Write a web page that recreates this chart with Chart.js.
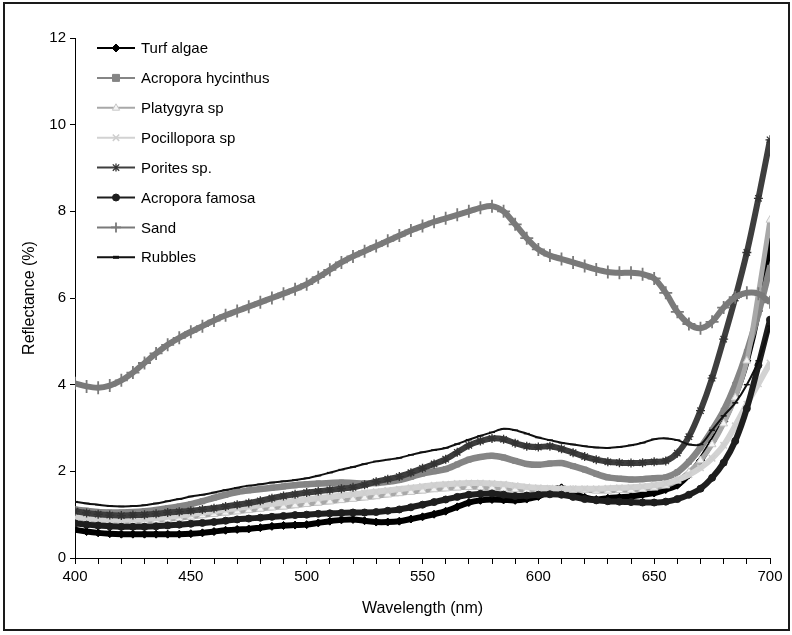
<!DOCTYPE html>
<html>
<head>
<meta charset="utf-8">
<script src="https://cdn.jsdelivr.net/npm/chart.js@4.4.1/dist/chart.umd.min.js"></script>
<style>
  html, body { margin: 0; padding: 0; background: #fff; }
  #wrap { width: 792px; height: 635px; }
</style>
</head>
<body>
<div id="wrap"><canvas id="c" width="792" height="635"></canvas></div>
<script>
// Wavelength categories (nm)
const wavelengths = [400,405,410,415,420,425,430,435,440,445,450,455,460,465,470,475,480,485,490,495,
  500,505,510,515,520,525,530,535,540,545,550,555,560,565,570,575,580,585,590,595,
  600,605,610,615,620,625,630,635,640,645,650,655,660,665,670,675,680,685,690,695,700];

const seriesNames = ["Turf algae","Acropora hycinthus","Platygyra sp","Pocillopora sp","Porites sp.","Acropora famosa","Sand","Rubbles"];

const turfAlgae = [0.65,0.61,0.58,0.56,0.55,0.55,0.55,0.55,0.55,0.55,0.56,0.58,0.61,0.64,0.66,0.67,0.70,0.73,0.75,0.76,
  0.77,0.81,0.85,0.88,0.89,0.86,0.83,0.83,0.85,0.90,0.95,1.01,1.08,1.18,1.28,1.33,1.35,1.34,1.33,1.36,
  1.42,1.55,1.62,1.50,1.40,1.35,1.38,1.40,1.42,1.46,1.50,1.58,1.68,1.92,2.25,2.68,3.15,3.75,4.55,5.70,7.30];

const acroporaHycinthus = [1.12,1.09,1.06,1.05,1.05,1.06,1.08,1.11,1.15,1.19,1.24,1.31,1.39,1.46,1.52,1.56,1.59,1.62,1.65,1.68,
  1.70,1.72,1.73,1.74,1.73,1.72,1.73,1.76,1.80,1.87,1.95,2.00,2.05,2.16,2.27,2.33,2.36,2.32,2.24,2.17,
  2.15,2.18,2.19,2.12,2.04,1.94,1.86,1.83,1.81,1.82,1.84,1.86,1.98,2.22,2.55,2.95,3.40,4.00,4.75,5.65,6.70];

const platygyra = [0.92,0.89,0.86,0.85,0.84,0.84,0.85,0.87,0.89,0.92,0.95,0.98,1.01,1.04,1.07,1.10,1.13,1.16,1.18,1.21,
  1.24,1.27,1.30,1.33,1.36,1.39,1.42,1.46,1.49,1.52,1.55,1.58,1.60,1.62,1.63,1.63,1.62,1.60,1.58,1.56,
  1.56,1.58,1.58,1.57,1.56,1.55,1.55,1.56,1.57,1.59,1.62,1.67,1.78,1.98,2.25,2.62,3.10,3.70,4.55,6.10,7.80];

const pocillopora = [0.96,0.93,0.90,0.89,0.88,0.89,0.90,0.92,0.95,0.98,1.01,1.05,1.08,1.12,1.15,1.19,1.22,1.25,1.28,1.32,
  1.35,1.38,1.41,1.44,1.47,1.50,1.53,1.56,1.59,1.62,1.65,1.68,1.70,1.72,1.73,1.73,1.72,1.70,1.67,1.64,
  1.62,1.61,1.60,1.60,1.60,1.60,1.61,1.62,1.63,1.65,1.68,1.72,1.80,1.92,2.08,2.30,2.60,3.05,3.55,4.02,4.50];

const porites = [1.08,1.04,1.01,0.99,0.98,0.99,1.00,1.02,1.05,1.07,1.09,1.12,1.15,1.19,1.23,1.27,1.32,1.38,1.43,1.47,
  1.51,1.54,1.57,1.60,1.63,1.69,1.76,1.82,1.88,1.97,2.07,2.17,2.28,2.44,2.60,2.70,2.76,2.74,2.65,2.58,
  2.56,2.58,2.52,2.43,2.34,2.27,2.22,2.20,2.19,2.20,2.22,2.24,2.42,2.80,3.40,4.15,5.05,6.00,7.05,8.30,9.65];

const acroporaFamosa = [0.80,0.77,0.75,0.73,0.72,0.72,0.72,0.73,0.75,0.77,0.79,0.81,0.83,0.86,0.89,0.91,0.93,0.95,0.97,0.99,
  1.00,1.02,1.03,1.04,1.05,1.05,1.06,1.09,1.12,1.17,1.23,1.29,1.35,1.41,1.46,1.48,1.49,1.46,1.43,1.44,
  1.46,1.47,1.46,1.41,1.36,1.33,1.31,1.30,1.29,1.28,1.28,1.30,1.36,1.46,1.60,1.85,2.20,2.70,3.45,4.45,5.50];

const sand = [4.03,3.96,3.93,3.98,4.10,4.28,4.50,4.72,4.92,5.08,5.22,5.35,5.48,5.60,5.70,5.80,5.90,6.00,6.10,6.20,
  6.32,6.48,6.65,6.82,6.96,7.08,7.20,7.32,7.44,7.56,7.66,7.76,7.84,7.92,8.00,8.08,8.12,8.00,7.70,7.38,
  7.12,6.98,6.90,6.82,6.74,6.66,6.60,6.58,6.58,6.55,6.45,6.12,5.68,5.40,5.30,5.45,5.78,6.02,6.12,6.10,5.90];

const rubbles = [1.30,1.26,1.23,1.20,1.19,1.20,1.22,1.26,1.31,1.36,1.42,1.46,1.51,1.57,1.62,1.67,1.70,1.74,1.77,1.80,
  1.84,1.90,1.97,2.04,2.10,2.17,2.23,2.27,2.31,2.38,2.44,2.49,2.54,2.63,2.73,2.82,2.90,2.98,2.95,2.87,
  2.78,2.72,2.66,2.62,2.58,2.55,2.54,2.56,2.60,2.66,2.74,2.76,2.72,2.62,2.62,2.95,3.28,3.58,4.00,4.55,5.35];

const xTickLabels = [400,450,500,550,600,650,700];
const yTickLabels = [0,2,4,6,8,10,12];

const seriesValues = [turfAlgae, acroporaHycinthus, platygyra, pocillopora, porites, acroporaFamosa, sand, rubbles];

// styles
const styles = [
  {line:'#000000', lw:6, ps:'rectRot', pr:4, pf:'#000000', pb:'#000000', pbw:1},
  {line:'#858585', lw:6.5, ps:'rect', pr:3.5, pf:'#858585', pb:'#858585', pbw:1},
  {line:'#a8a8a8', lw:5, ps:'triangle', pr:4.5, pf:'#f4f4f4', pb:'#c8c8c8', pbw:1},
  {line:'#d2d2d2', lw:6, ps:'crossRot', pr:4.5, pf:'#d2d2d2', pb:'#cfcfcf', pbw:1.5},
  {line:'#3e3e3e', lw:6, ps:'star', pr:4.5, pf:'#333333', pb:'#333333', pbw:1.3},
  {line:'#1e1e1e', lw:6, ps:'circle', pr:3.5, pf:'#1e1e1e', pb:'#1e1e1e', pbw:1},
  {line:'#7a7a7a', lw:6, ps:'cross', pr:6.5, pf:'#7a7a7a', pb:'#7a7a7a', pbw:1.8},
  {line:'#111111', lw:2, ps:'line', pr:3, pf:'#111111', pb:'#111111', pbw:1.5}
];

const datasets = seriesNames.map((name, i) => ({
  label: name,
  data: wavelengths.map((w, k) => ({x: w, y: seriesValues[i][k]})),
  borderColor: styles[i].line,
  backgroundColor: styles[i].pf,
  borderWidth: styles[i].lw,
  pointStyle: styles[i].ps,
  pointRadius: styles[i].pr,
  pointBackgroundColor: styles[i].pf,
  pointBorderColor: styles[i].pb,
  pointBorderWidth: styles[i].pbw,
  tension: 0.3,
  fill: false,
  order: seriesNames.length - i
}));

const FONT = "Arial, 'Liberation Sans', Helvetica, sans-serif";

function drawMarker(ctx, style, x, y, r) {
  ctx.save();
  ctx.beginPath();
  switch (style) {
    case 'rectRot':
      ctx.moveTo(x, y - r); ctx.lineTo(x + r, y); ctx.lineTo(x, y + r); ctx.lineTo(x - r, y); ctx.closePath();
      ctx.fill(); ctx.stroke(); break;
    case 'rect':
      ctx.rect(x - r, y - r, 2*r, 2*r); ctx.fill(); ctx.stroke(); break;
    case 'triangle':
      ctx.moveTo(x, y - r); ctx.lineTo(x + r*0.9, y + r*0.6); ctx.lineTo(x - r*0.9, y + r*0.6); ctx.closePath();
      ctx.fill(); ctx.stroke(); break;
    case 'crossRot':
      ctx.moveTo(x - r*0.8, y - r*0.8); ctx.lineTo(x + r*0.8, y + r*0.8);
      ctx.moveTo(x + r*0.8, y - r*0.8); ctx.lineTo(x - r*0.8, y + r*0.8); ctx.stroke(); break;
    case 'star':
      ctx.moveTo(x - r*0.8, y - r*0.8); ctx.lineTo(x + r*0.8, y + r*0.8);
      ctx.moveTo(x + r*0.8, y - r*0.8); ctx.lineTo(x - r*0.8, y + r*0.8);
      ctx.moveTo(x, y - r); ctx.lineTo(x, y + r); ctx.stroke(); break;
    case 'circle':
      ctx.arc(x, y, r, 0, Math.PI*2); ctx.fill(); ctx.stroke(); break;
    case 'cross':
      ctx.moveTo(x, y - r); ctx.lineTo(x, y + r); ctx.moveTo(x - r, y); ctx.lineTo(x + r, y); ctx.stroke(); break;
    case 'line':
      ctx.moveTo(x - r, y); ctx.lineTo(x + r, y); ctx.lineWidth = 3; ctx.stroke(); break;
  }
  ctx.restore();
}

const framePlugin = {
  id: 'frame',
  beforeDraw(chart) {
    const ctx = chart.ctx;
    ctx.save();
    ctx.fillStyle = '#ffffff';
    ctx.fillRect(0, 0, chart.width, chart.height);
    ctx.restore();
  },
  afterDraw(chart) {
    const ctx = chart.ctx;
    ctx.save();
    ctx.strokeStyle = '#1a1a1a';
    ctx.lineWidth = 2;
    ctx.strokeRect(4, 3, 785, 627);
    // legend inside plot
    const x0 = 97, x1 = 135, y0 = 48, dy = 29.9;
    seriesNames.forEach((name, i) => {
      const y = y0 + i * dy;
      const s = styles[i];
      ctx.strokeStyle = s.line;
      ctx.lineWidth = 2;
      ctx.beginPath(); ctx.moveTo(x0, y); ctx.lineTo(x1, y); ctx.stroke();
      ctx.fillStyle = s.pf;
      ctx.strokeStyle = s.pb;
      ctx.lineWidth = s.pbw;
      const r = s.ps === 'line' ? 3 : (s.ps === 'cross' ? 5 : Math.min(s.pr, 4));
      drawMarker(ctx, s.ps, (x0 + x1) / 2, y, r);
      ctx.fillStyle = '#000000';
      ctx.font = '15px ' + FONT;
      ctx.textBaseline = 'middle';
      ctx.textAlign = 'left';
      ctx.fillText(name, 141, y + 1);
    });
    ctx.restore();
  }
};

new Chart(document.getElementById('c'), {
  type: 'line',
  data: { datasets },
  plugins: [framePlugin],
  options: {
    responsive: false,
    animation: false,
    devicePixelRatio: 1,
    layout: { padding: { left: 0, right: 22, top: 38, bottom: 0 } },
    plugins: { legend: { display: false }, tooltip: { enabled: false } },
    scales: {
      x: {
        type: 'linear',
        min: 400, max: 700,
        afterFit(scale) { scale.height = 77; },
        afterBuildTicks(scale) {
          const t = [];
          for (let v = 400; v <= 700; v += 10) t.push({ value: v });
          scale.ticks = t;
        },
        ticks: {
          autoSkip: false, maxRotation: 0, padding: 4, color: '#000',
          font: { family: FONT, size: 15 },
          callback: (v) => xTickLabels.includes(v) ? String(v) : ''
        },
        grid: { display: true, drawOnChartArea: false, drawTicks: true, tickLength: 6, color: '#000', lineWidth: 1 },
        border: { display: true, color: '#000', width: 1 },
        title: { display: true, text: 'Wavelength (nm)', color: '#000', font: { family: FONT, size: 16 }, padding: { top: 0, bottom: 17 } }
      },
      y: {
        type: 'linear',
        min: 0, max: 12,
        afterFit(scale) { scale.width = 75; },
        afterBuildTicks(scale) { scale.ticks = yTickLabels.map(v => ({ value: v })); },
        ticks: { padding: 4, color: '#000', font: { family: FONT, size: 15 } },
        grid: { display: true, drawOnChartArea: false, drawTicks: true, tickLength: 5, color: '#000', lineWidth: 1 },
        border: { display: true, color: '#000', width: 1 },
        title: { display: true, text: 'Reflectance (%)', color: '#000', font: { family: FONT, size: 16 }, padding: { top: 20, bottom: 0 } }
      }
    }
  }
});
</script>
</body>
</html>
